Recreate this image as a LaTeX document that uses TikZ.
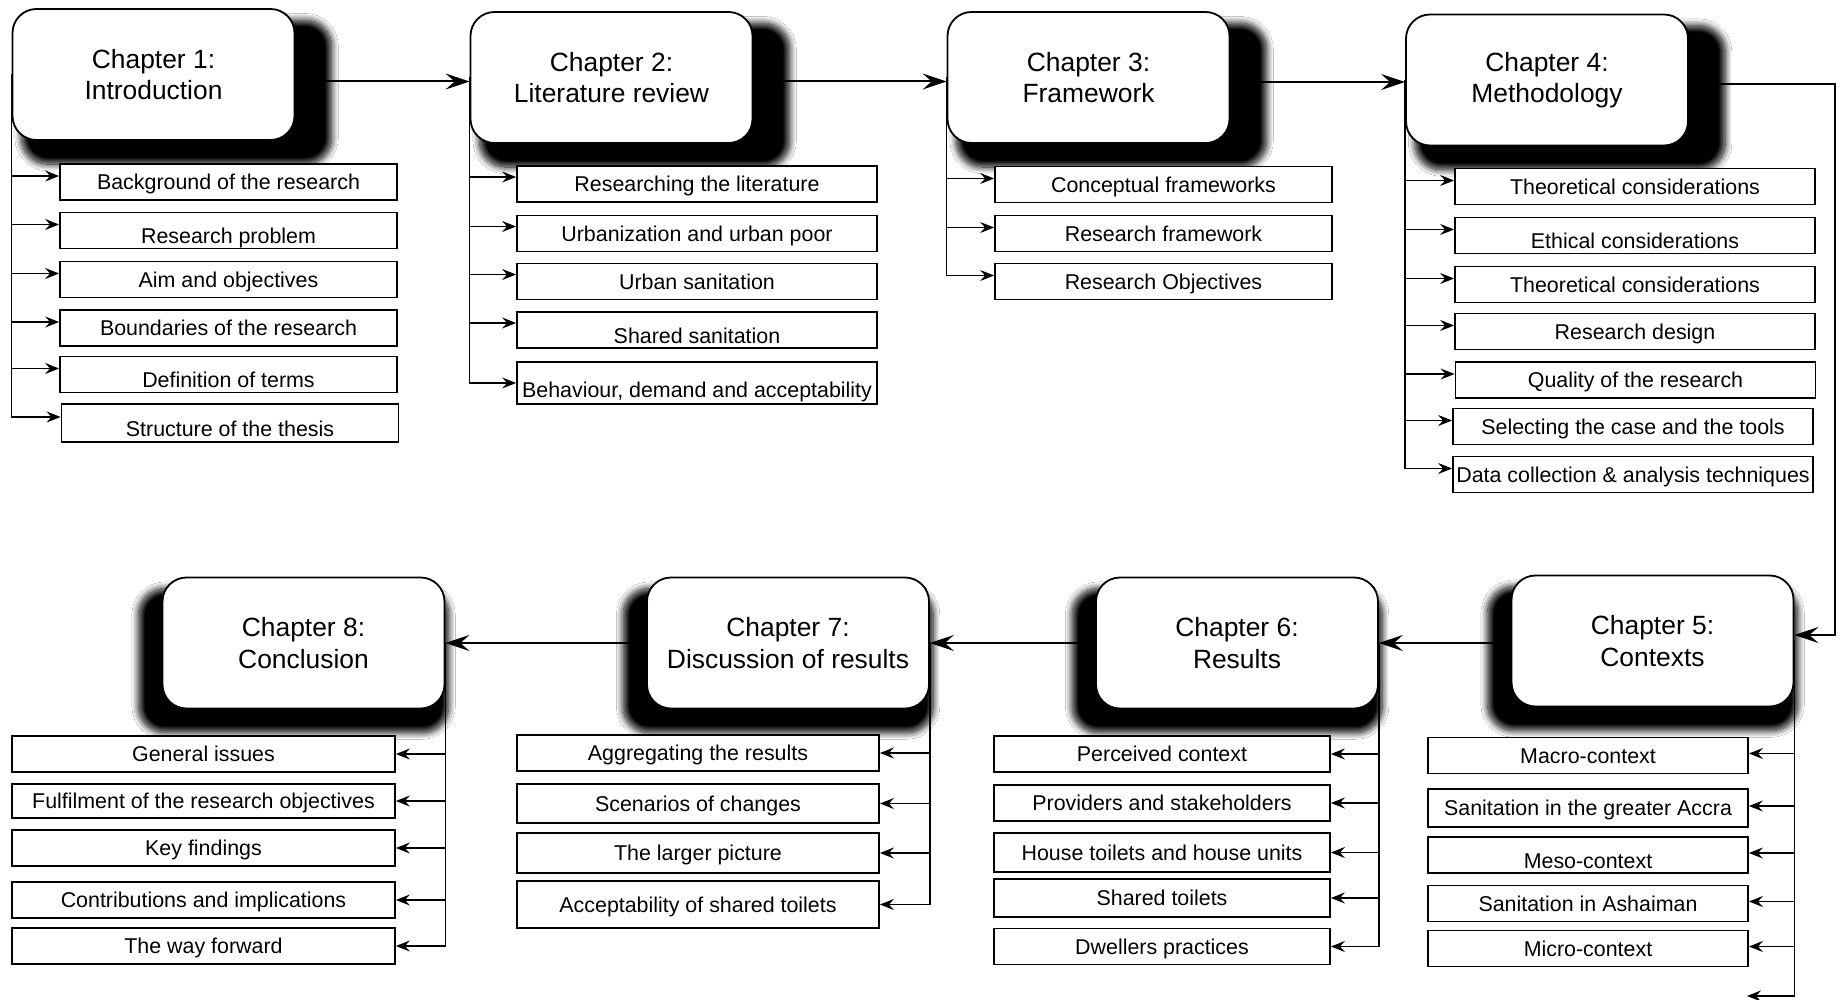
\documentclass[tikz,border=0pt]{standalone}
\usepackage{fontspec}
\setmainfont{Liberation Sans}
\usetikzlibrary{arrows.meta,shadows.blur}
\pgfdeclarelayer{background}
\pgfsetlayers{background,main}

\tikzset{
  chapter/.style={draw, line width=0.9pt, rounded corners=12pt, fill=white,
    minimum width=141pt, minimum height=65.5pt, align=center, inner sep=2pt,
    font=\fontsize{13.2}{15.8}\selectfont, execute at begin node={\rule{0pt}{18pt}}},
  topshadow/.style={blur shadow={shadow xshift=10.5pt, shadow yshift=-8pt,
    shadow scale=1.1, shadow opacity=100, shadow blur radius=3pt, shadow blur steps=12}},
  botshadow/.style={blur shadow={shadow xshift=-4.5pt, shadow yshift=-8pt,
    shadow scale=1.1, shadow opacity=100, shadow blur radius=3pt, shadow blur steps=12}},
  item/.style={draw, line width=0.9pt, fill=white, minimum height=18pt,
    inner xsep=1pt, inner ysep=1pt, font=\fontsize{10.7}{12}\selectfont,
    text height=7.66pt, text depth=0pt},
  lowered/.style={text height=13.2pt},
  mainarrow/.style={line width=1pt, -{Stealth[length=12pt,width=8pt,inset=4.5pt]}},
  subarrow/.style={line width=0.65pt, -{Stealth[length=7pt,width=5.5pt,inset=2.5pt]}},
}

\begin{document}
\begin{tikzpicture}[x=0.5pt, y=-0.5pt]
\useasboundingbox (0,0) rectangle (1846,1000);

% chapter boxes, top row
\node[chapter, topshadow] (ch1) at (153.5,74.5) {Chapter 1:\\Introduction};
\node[chapter, topshadow] (ch2) at (611.5,77.5) {Chapter 2:\\Literature review};
\node[chapter, topshadow] (ch3) at (1088.5,77.5) {Chapter 3:\\Framework};
\node[chapter, topshadow] (ch4) at (1547,80) {Chapter 4:\\Methodology};
% chapter boxes, bottom row
\node[chapter, botshadow] (ch5) at (1652.5,641) {Chapter 5:\\Contexts};
\node[chapter, botshadow] (ch6) at (1237,643) {Chapter 6:\\Results};
\node[chapter, botshadow] (ch7) at (788,643) {Chapter 7:\\Discussion of results};
\node[chapter, botshadow] (ch8) at (303.5,643) {Chapter 8:\\Conclusion};

% chapter 1 sections
\begin{scope}[every node/.append style={item, minimum width=168.5pt}]
\node (b11) at (228.5,182) {Background of the research};
\node[lowered] (b12) at (228.5,230.5) {Research problem};
\node (b13) at (228.5,279.5) {Aim and objectives};
\node (b14) at (228.5,328) {Boundaries of the research};
\node[lowered] (b15) at (228.5,374.5) {Definition of terms};
\node[lowered, minimum height=19pt] (b16) at (230,423) {Structure of the thesis};
\end{scope}

% chapter 2 sections
\begin{scope}[every node/.append style={item, minimum width=180pt}]
\node (b21) at (697,184) {Researching the literature};
\node (b22) at (697,233.5) {Urbanization and urban poor};
\node (b23) at (697,281.5) {Urban sanitation};
\node[lowered] (b24) at (697,330) {Shared sanitation};
\node[text height=14.7pt, minimum height=21pt] (b25) at (697,383) {Behaviour, demand and acceptability};
\end{scope}

% chapter 3 sections
\begin{scope}[every node/.append style={item, minimum width=168.5pt}]
\node (b31) at (1163.5,184.5) {Conceptual frameworks};
\node (b32) at (1163.5,233.5) {Research framework};
\node (b33) at (1163.5,281.5) {Research Objectives};
\end{scope}

% chapter 4 sections
\begin{scope}[every node/.append style={item, minimum width=180pt}]
\node (b41) at (1635,186.5) {Theoretical considerations};
\node[lowered] (b42) at (1635,235.5) {Ethical considerations};
\node (b43) at (1635,284.5) {Theoretical considerations};
\node (b44) at (1635,331.5) {Research design};
\node (b45) at (1635.5,380) {Quality of the research};
\node (b46) at (1633,426.5) {Selecting the case and the tools};
\node (b47) at (1633,474.5) {Data collection \& analysis techniques};
\end{scope}

% chapter 5 sections
\begin{scope}[every node/.append style={item, minimum width=160pt}]
\node (b51) at (1588,755.5) {Macro-context};
\node[minimum height=19pt] (b52) at (1588,808) {Sanitation in the greater Accra};
\node[lowered] (b53) at (1588,855) {Meso-context};
\node (b54) at (1588,903.5) {Sanitation in Ashaiman};
\node (b55) at (1588,948.5) {Micro-context};
\end{scope}
\coordinate (c5end) at (1747,996);

% chapter 6 sections
\begin{scope}[every node/.append style={item, minimum width=168pt}]
\node (b61) at (1162,754) {Perceived context};
\node (b62) at (1162,803) {Providers and stakeholders};
\node[minimum height=19.5pt] (b63) at (1162,852.5) {House toilets and house units};
\node[minimum height=19pt] (b64) at (1162,898) {Shared toilets};
\node (b65) at (1162,946.5) {Dwellers practices};
\end{scope}

% chapter 7 sections
\begin{scope}[every node/.append style={item, minimum width=181pt}]
\node (b71) at (698,753) {Aggregating the results};
\node[minimum height=19.5pt] (b72) at (698,803.5) {Scenarios of changes};
\node[minimum height=20pt] (b73) at (698,853) {The larger picture};
\node[minimum height=23.5pt] (b74) at (698,904.5) {Acceptability of shared toilets};
\end{scope}

% chapter 8 sections
\begin{scope}[every node/.append style={item, minimum width=191.5pt}]
\node (b81) at (203.5,754) {General issues};
\node[minimum height=17pt] (b82) at (203.5,801) {Fulfilment of the research objectives};
\node (b83) at (203.5,848) {Key findings};
\node (b84) at (203.5,900) {Contributions and implications};
\node (b85) at (203.5,946) {The way forward};
\end{scope}

\begin{pgfonlayer}{background}
\fill[white] (0,0) rectangle (1846,1000);

% chapter sequence
\draw[mainarrow] ([yshift=-2pt]ch2.west -| ch1.east) -- ([yshift=-2pt]ch2.west);
\draw[mainarrow] ([yshift=-2pt]ch3.west -| ch2.east) -- ([yshift=-2pt]ch3.west);
\draw[mainarrow] ([yshift=-1pt]ch4.west -| ch3.east) -- ([yshift=-1pt]ch4.west);
\draw[mainarrow] ([yshift=-2pt]ch4.east) -- ++(146,0) |- ([yshift=3pt]ch5.east);
\draw[mainarrow] (ch6.east -| ch5.west) -- (ch6.east);
\draw[mainarrow] (ch7.east -| ch6.west) -- (ch7.east);
\draw[mainarrow] (ch8.east -| ch7.west) -- (ch8.east);

% section branches, top row
\foreach \b in {b11,b12,b13,b14,b15,b16}
  \draw[subarrow] (ch1.west) |- ([yshift=3pt]\b.west);
\foreach \b in {b21,b22,b23,b24}
  \draw[subarrow] (ch2.west) |- ([yshift=3.5pt]\b.west);
\draw[subarrow] (ch2.west) |- (b25.west);
\foreach \b in {b31,b32,b33}
  \draw[subarrow] (ch3.west) |- ([yshift=3pt]\b.west);
\foreach \b in {b41,b42,b43,b44,b45,b46,b47}
  \draw[subarrow] (ch4.west) |- ([yshift=3pt]\b.west);

% section branches, bottom row
\foreach \b in {b51,b52,b53,b54,b55}
  \draw[subarrow] (ch5.east) |- ([yshift=1pt]\b.east);
\draw[subarrow] (ch5.east) |- (c5end);
\foreach \b in {b61,b62,b63,b64,b65}
  \draw[subarrow] (ch6.east) |- (\b.east);
\foreach \b in {b71,b72,b73,b74}
  \draw[subarrow] (ch7.east) |- (\b.east);
\foreach \b in {b81,b82,b83,b84,b85}
  \draw[subarrow] (ch8.east) |- (\b.east);
\end{pgfonlayer}
\end{tikzpicture}
\end{document}
